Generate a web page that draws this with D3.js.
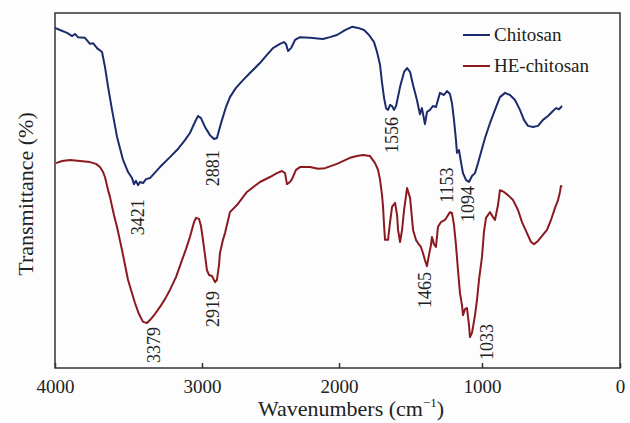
<!DOCTYPE html>
<html><head><meta charset="utf-8">
<script src="https://cdn.jsdelivr.net/npm/d3@7/dist/d3.min.js"></script>
<style>html,body{margin:0;padding:0;background:#fff;}svg{display:block;}</style>
</head><body><svg id="c" width="630" height="423"></svg>
<script>
// ---- data ----
const xTicks = [4000, 3000, 2000, 1000, 0];
const seriesNames = ["Chitosan", "HE-chitosan"];
const chitosanW = [4000,3966,3918,3884,3864,3844,3796,3762,3741,3714,3680,3660,3639,3612,3578,3537,3503,3476,3463,3449,3435,3422,3401,3381,3354,3286,3218,3170,3116,3082,3048,3027,3007,2978,2942,2912,2891,2869,2854,2825,2796,2752,2701,2650,2577,2526,2482,2431,2402,2387,2372,2350,2321,2285,2212,2117,2066,2015,1958,1909,1867,1825,1790,1755,1734,1713,1699,1685,1671,1657,1643,1629,1615,1601,1573,1545,1524,1503,1482,1455,1434,1420,1399,1385,1364,1343,1322,1294,1266,1245,1224,1210,1196,1182,1175,1161,1147,1133,1112,1091,1070,1049,1028,1007,978,942,906,870,833,797,761,725,696,667,630,594,558,522,493,464,442,420];
const chitosanT = [95.8,95.2,94.4,93.5,94.1,93.2,93.0,91.3,91.5,90.1,89.0,84.8,79.2,72.7,65.1,58.6,55.2,53.5,51.8,52.7,51.5,52.4,52.1,53.2,53.5,56.6,59.4,61.4,64.2,66.2,69.3,71.0,70.4,67.9,65.6,64.5,64.8,67.9,69.9,73.5,76.3,78.9,81.1,83.1,85.9,88.2,90.1,91.3,91.8,91.3,89.3,90.1,92.4,93.2,93.0,92.7,93.2,93.8,95.2,96.1,95.8,95.2,93.8,91.8,89.0,85.4,80.3,76.1,73.2,72.7,74.1,73.8,72.7,73.8,79.2,83.4,84.5,83.4,79.7,75.5,71.5,73.2,68.7,72.1,72.7,73.8,73.5,77.5,76.9,78.0,77.2,74.6,69.9,64.2,60.6,61.4,58.0,54.9,53.0,52.4,54.1,54.9,57.7,60.8,64.8,69.0,72.7,76.3,77.5,76.9,75.5,72.7,69.9,68.2,67.9,68.2,69.9,71.0,72.1,73.2,72.9,73.8];
const heChitosanW = [3993,3952,3898,3830,3762,3721,3694,3673,3660,3639,3626,3599,3578,3544,3503,3456,3429,3401,3374,3354,3320,3286,3252,3218,3177,3136,3109,3082,3054,3041,3020,3007,2993,2978,2964,2949,2927,2905,2891,2876,2869,2847,2832,2796,2745,2672,2577,2504,2453,2416,2394,2380,2358,2343,2314,2285,2212,2153,2102,2015,1923,1874,1832,1783,1748,1727,1713,1699,1692,1685,1678,1657,1643,1629,1608,1594,1587,1573,1559,1545,1524,1503,1482,1462,1448,1427,1413,1399,1385,1371,1357,1350,1336,1322,1308,1287,1259,1224,1210,1196,1182,1168,1154,1140,1133,1119,1105,1091,1084,1070,1063,1049,1035,1021,1000,986,971,942,920,906,884,870,841,812,775,739,710,674,645,623,594,565,529,500,471,449,435,428,420];
const heChitosanT = [57.7,58.3,58.6,58.3,58.0,57.5,56.6,55.2,53.8,50.1,48.2,43.1,39.7,33.2,24.8,18.3,15.2,13.0,12.7,13.5,15.2,17.2,19.4,22.0,25.6,30.4,33.5,36.9,41.1,42.3,42.0,40.0,36.1,31.8,27.6,26.2,25.9,24.2,24.8,29.0,32.4,36.1,38.0,43.9,45.9,49.6,52.4,53.8,54.9,55.5,54.9,51.8,52.4,53.2,55.8,56.6,56.6,56.1,56.3,57.5,59.2,59.7,60.0,59.7,57.7,55.8,53.0,48.7,45.4,40.3,36.1,36.1,41.1,45.4,46.5,43.1,38.9,35.5,38.9,44.5,50.7,47.9,38.9,36.1,35.2,34.1,32.4,30.4,28.7,31.8,34.6,36.9,34.9,34.1,39.7,41.1,41.7,43.9,43.7,40.3,34.6,27.6,21.1,17.7,14.9,16.6,16.9,12.1,8.7,9.9,11.5,14.9,19.2,24.8,31.3,38.3,42.3,43.9,42.5,41.7,45.9,50.1,49.6,48.7,47.3,44.5,41.1,38.0,35.5,34.9,35.8,37.2,38.9,41.7,45.1,47.3,49.6,51.3,51.0];
const peakLabels = ["3421","2881","3379","2919","1556","1153","1094","1465","1033"];
const peakLabelW = [3435,2920,3327,2920,1629,1245,1098,1399,964];
const peakLabelT = [42.5,56.3,6.5,16.6,65.6,51.5,46.2,22.0,7.3];

// ---- chart ----
const svg = d3.select("#c");
const L = 55, R = 620, T = 13, B = 368;
const x = d3.scaleLinear().domain(xTicks).range([55, 202, 339, 482, 620]);
const y = d3.scaleLinear().domain([0, 100]).range([B, T]);
const colors = ["#1b2b6b", "#8a1a1e"];
const font = "'Liberation Serif','Times New Roman',serif";

svg.append("rect").attr("x", 0).attr("y", 0).attr("width", 630).attr("height", 423).attr("fill", "#fdfdfd");

const ax = svg.append("g").attr("transform", `translate(0,${B})`)
  .call(d3.axisBottom(x).tickValues(xTicks).tickSize(-5).tickPadding(12).tickFormat(d3.format("d")));
ax.select(".domain").remove();
ax.selectAll(".tick line").attr("stroke", "#333").attr("stroke-width", 1.5);
ax.selectAll(".tick text").attr("font-family", font).attr("font-size", 19).attr("fill", "#222");

svg.append("rect").attr("x", L).attr("y", T).attr("width", R - L).attr("height", B - T)
  .attr("fill", "none").attr("stroke", "#333").attr("stroke-width", 1.5);

const line = d3.line().x(d => x(d[0])).y(d => y(d[1]));
const series = [d3.zip(chitosanW, chitosanT), d3.zip(heChitosanW, heChitosanT)];
series.forEach((s, i) => {
  svg.append("path").datum(s).attr("d", line).attr("fill", "none")
    .attr("stroke", colors[i]).attr("stroke-width", 2).attr("stroke-linejoin", "round");
});

peakLabels.forEach((t, i) => {
  svg.append("text").attr("transform", `translate(${x(peakLabelW[i])},${y(peakLabelT[i])}) rotate(-90)`)
    .attr("text-anchor", "middle").attr("dy", "0.35em")
    .attr("font-family", font).attr("font-size", 18).attr("fill", "#222").text(t);
});

// legend
const lg = svg.append("g");
seriesNames.forEach((n, i) => {
  const yy = 35 + i * 31;
  lg.append("line").attr("x1", 463).attr("x2", 490).attr("y1", yy).attr("y2", yy)
    .attr("stroke", colors[i]).attr("stroke-width", 2);
  lg.append("text").attr("x", 494).attr("y", yy + 6).attr("font-family", font)
    .attr("font-size", 19).attr("fill", "#222").text(n);
});

// axis titles
const xt = svg.append("text").attr("x", 351).attr("y", 416).attr("text-anchor", "middle")
  .attr("font-family", font).attr("font-size", 22).attr("fill", "#222");
xt.append("tspan").text("Wavenumbers (cm");
xt.append("tspan").attr("font-size", 13).attr("dy", -9).text("−1");
xt.append("tspan").attr("dy", 9).text(")");

svg.append("text").attr("transform", "translate(33,194) rotate(-90)").attr("text-anchor", "middle")
  .attr("font-family", font).attr("font-size", 22).attr("fill", "#222").text("Transmittance (%)");
</script></body></html>
